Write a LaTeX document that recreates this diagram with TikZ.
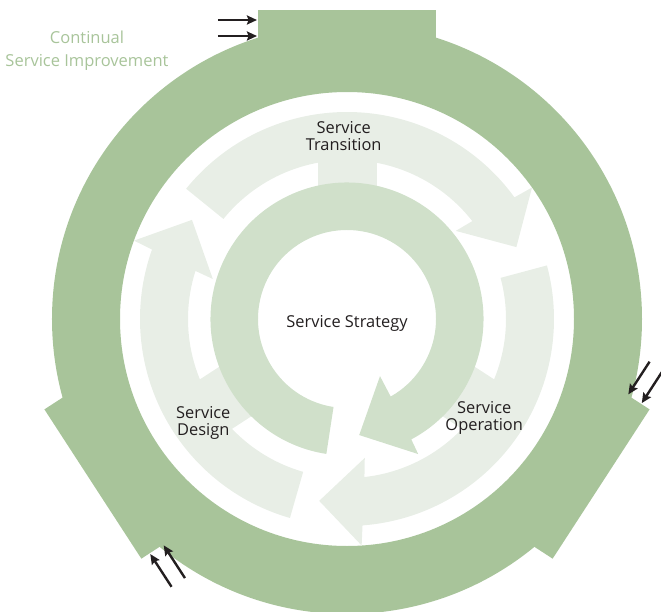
\documentclass[tikz,border=0pt]{standalone}
\usepackage{fontspec}
\setmainfont{Open Sans}
\usetikzlibrary{arrows.meta}

\definecolor{csigreen}{HTML}{A8C49A}
\definecolor{coregreen}{HTML}{D0E0CA}
\definecolor{phasegreen}{HTML}{E8EEE6}
\definecolor{textgrey}{HTML}{231F20}

\tikzset{
	phase/.style={fill=phasegreen},
	phasetext/.style={text=textgrey, align=center, font=\fontsize{16.4}{17.6}\selectfont},
	inflow/.style={->, line width=2.4pt, textgrey},
}

% #1 tail angle, #2 angle where the shaft meets the head
\newcommand{\cycarrow}[2]{
	\fill[phase] (#1:159) arc[start angle=#1, end angle=#2, radius=159]
		-- ({#2+1}:140) -- ({#2-15}:184) -- ({#2-2.6}:227) -- ({#2-2}:207)
		arc[start angle={#2-2}, end angle=#1, radius=207] -- cycle;
}

\begin{document}
\begin{tikzpicture}[x=1pt, y=1pt, >={Stealth[length=10pt, width=9pt, inset=1.5pt]}]
	\useasboundingbox (-347,-292) rectangle (314,319);

	\fill[csigreen, even odd rule] (0,0) circle (295) (0,0) circle (227);
	\foreach \a/\d [count=\i] in {0/309, 123/303, -123/303} {
		\begin{scope}[rotate=\a]
			\fill[csigreen] (-89,240) -- (89,240) -- (89,\d) -- (-89,\d) -- cycle;
			\fill[phase] (-29.5,130) -- (29.5,130) -- (29.5,165) -- (-29.5,165) -- cycle;
			\coordinate (out\i) at (-129,\d-10);
			\coordinate (in\i) at (-90,\d-10);
			\coordinate (outb\i) at (-129,\d-26);
			\coordinate (inb\i) at (-90,\d-26);
		\end{scope}
		\draw[inflow] (out\i) -- (in\i);
		\draw[inflow] (outb\i) -- (inb\i);
	}

	\cycarrow{141}{38}
	\cycarrow{15}{-83.7}
	\cycarrow{254}{162.4}

	\fill[coregreen] (261.3:89) arc[start angle=261.3, end angle=-60.6, radius=89]
		-- (-60:66) -- (-84:116.7) -- (-62.2:152.7) -- (-61.9:136.5)
		arc[start angle=-61.9, end angle=261.3, radius=136.5] -- cycle;

	\node[phasetext] (strategy) at (0,-4) {Service Strategy};
	\node[phasetext] (transition) at (-3.3,182.8) {Service\\Transition};
	\node[phasetext] (design) at (-143.7,-103.8) {Service\\Design};
	\node[phasetext] (operation) at (137.2,-98.8) {Service\\Operation};
	\node[text=csigreen, align=center, font=\fontsize{16.5}{23}\selectfont] (csi) at (-260,268.3) {Continual\\Service Improvement};
\end{tikzpicture}
\end{document}
